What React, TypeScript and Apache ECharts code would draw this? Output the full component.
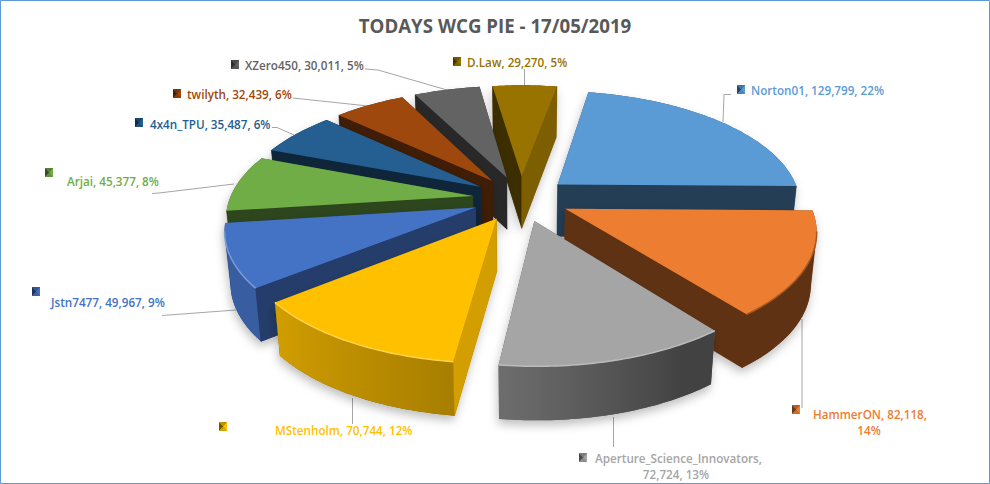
import React, { useEffect, useRef } from "react";
import * as echarts from "echarts";

const names = ["Norton01", "HammerON", "Aperture_Science_Innovators", "MStenholm", "Jstn7477", "Arjai", "4x4n_TPU", "twilyth", "XZero450", "D.Law"];
const values = [129799, 82118, 72724, 70744, 49967, 45377, 35487, 32439, 30011, 29270];
const colors = ["#5b9bd5", "#ed7d31", "#a5a5a5", "#ffc000", "#4472c4", "#70ad47", "#255e91", "#9e480e", "#636363", "#997300"];
const titleText = "TODAYS WCG PIE - 17/05/2019";

// layout of the label boxes (separate from the data)
const labelPos: { x: number; y: number; key: [number, number]; leader: number[][]; align?: string; breakAfter?: number }[] = [
  { x: 751, y: 90, key: [737, 85], leader: [[723, 122], [724, 94.5], [731, 94.5]] },
  { x: 813, y: 414, key: [792, 405], leader: [[802, 319], [802, 408]], breakAfter: 2 },
  { x: 595, y: 458, key: [579, 453], leader: [[613.5, 417], [613.5, 447]], breakAfter: 1 },
  { x: 275, y: 430, key: [219, 422], leader: [[352.5, 398], [352.5, 424]] },
  { x: 51, y: 302, key: [32, 287], leader: [[162, 315.5], [236, 310]] },
  { x: 67, y: 181, key: [45, 168], leader: [[152, 193.5], [159, 193], [234, 184]] },
  { x: 150, y: 124, key: [135, 118], leader: [[272, 127.5], [277, 127.5], [294, 135]] },
  { x: 187, y: 94, key: [173, 89], leader: [[293, 98], [368, 106]] },
  { x: 245, y: 65, key: [231, 60], leader: [[365, 69], [378, 70], [447, 90]] },
  { x: 467, y: 62, key: [453, 57], leader: [[524.5, 85], [524.5, 69]] },
];

const CX = 521, CY = 198.5, RX = 243, RY = 113, PERSP = 0.165, EXPLODE = 0.2, DEPTH = 52, START = 10;
const D2R = Math.PI / 180;

function shadeHex(hex: string, f: number) {
  const n = parseInt(hex.slice(1), 16);
  const ch = (v: number) => Math.max(0, Math.min(255, Math.round(v * f)));
  return `rgb(${ch((n >> 16) & 255)},${ch((n >> 8) & 255)},${ch(n & 255)})`;
}
function mixWhite(hex: string, t: number) {
  const n = parseInt(hex.slice(1), 16);
  const ch = (v: number) => Math.round(v + (255 - v) * t);
  return `rgb(${ch((n >> 16) & 255)},${ch((n >> 8) & 255)},${ch(n & 255)})`;
}

const total = values.reduce((s, v) => s + v, 0);
const spans = (() => {
  let acc = START;
  return values.map((v) => {
    const a0 = acc;
    acc += (v / total) * 360;
    return [a0, acc];
  });
})();

function project(u: number, v: number): number[] {
  const s = 1 / (1 + PERSP * v);
  return [CX + RX * u * s, CY - RY * v * s];
}
function lower(p: number[]): number[] {
  return [CX + (p[0] - CX) * 0.98, p[1] + DEPTH + (p[1] - CY) * 0.012];
}
function arcShade(a: number) {
  const d = ((a % 360) + 360) % 360;
  if (d < 150) return 0.4;
  if (d < 185) return 0.4 + ((d - 150) / 35) * 0.25;
  if (d < 230) return 0.65 + ((d - 185) / 45) * 0.17;
  return 0.82;
}
function radialShade(n: number) {
  const s = Math.max(0, Math.sin(n * D2R));
  return 0.4 + 0.43 * Math.pow(s, 2.4);
}
function hull(pts: number[][]) {
  const p = pts.slice().sort((a, b) => a[0] - b[0] || a[1] - b[1]);
  const cross = (o: number[], a: number[], b: number[]) => (a[0] - o[0]) * (b[1] - o[1]) - (a[1] - o[1]) * (b[0] - o[0]);
  const lo: number[][] = [];
  for (const q of p) {
    while (lo.length >= 2 && cross(lo[lo.length - 2], lo[lo.length - 1], q) <= 0) lo.pop();
    lo.push(q);
  }
  const up: number[][] = [];
  for (const q of p.slice().reverse()) {
    while (up.length >= 2 && cross(up[up.length - 2], up[up.length - 1], q) <= 0) up.pop();
    up.push(q);
  }
  return lo.slice(0, -1).concat(up.slice(0, -1));
}

function renderSlice(_params: any, api: any) {
  const i = api.value(0) as number;
  const [a0, a1] = spans[i];
  const color = colors[i];
  const m = ((a0 + a1) / 2) * D2R;
  const ou = EXPLODE * Math.sin(m), ov = EXPLODE * Math.cos(m);
  const apex = project(ou, ov);
  const steps = Math.max(8, Math.round(a1 - a0));
  const angles: number[] = [];
  const rim: number[][] = [];
  for (let k = 0; k <= steps; k++) {
    const a = a0 + ((a1 - a0) * k) / steps;
    angles.push(a);
    rim.push(project(ou + Math.sin(a * D2R), ov + Math.cos(a * D2R)));
  }
  const top = [apex, ...rim];
  const all = top.concat(top.map(lower));
  const children: any[] = [];
  children.push({
    type: "polygon",
    shape: { points: hull(all) },
    style: { fill: shadeHex(color, 0.5), shadowBlur: 10, shadowColor: "rgba(0,0,0,0.25)", shadowOffsetX: -1, shadowOffsetY: 5 },
  });
  const quad = (p: number[], q: number[], fill: string) => ({
    type: "polygon",
    shape: { points: [p, q, lower(q), lower(p)] },
    style: { fill, stroke: fill, lineWidth: 0.5 },
  });
  // outer wall
  const vis: number[] = [];
  for (let k = 0; k < rim.length; k++) {
    const a = rim[k], b = rim[k + 1], c = rim[k - 1];
    if ((b && b[0] - a[0] < 0) || (c && a[0] - c[0] < 0)) vis.push(k);
  }
  if (vis.length > 1) {
    const vr = vis.map((k) => rim[k]);
    const poly = vr.concat(vr.map(lower).reverse());
    const xs = poly.map((p) => p[0]);
    const minX = Math.min(...xs), maxX = Math.max(...xs);
    const stops = vis
      .map((k) => ({ offset: (rim[k][0] - minX) / (maxX - minX || 1), color: shadeHex(color, arcShade(angles[k])) }))
      .sort((p, q) => p.offset - q.offset);
    children.push({
      type: "polygon",
      shape: { points: poly },
      style: { fill: { type: "linear", x: 0, y: 0, x2: 1, y2: 0, colorStops: stops } },
    });
  }
  // cut faces
  if (rim[0][0] < apex[0]) children.push(quad(apex, rim[0], shadeHex(color, radialShade(a0 - 90))));
  const last = rim[rim.length - 1];
  if (last[0] > apex[0]) children.push(quad(last, apex, shadeHex(color, radialShade(a1 + 90))));
  // top
  children.push({ type: "polygon", shape: { points: top }, style: { fill: color } });
  // bevel along the near rim
  if (vis.length > 1) {
    children.push({
      type: "polyline",
      shape: { points: vis.map((k) => rim[k]) },
      style: { fill: "none", stroke: a0 > 180 ? mixWhite(color, 0.3) : a0 > 130 ? mixWhite(color, 0.25) : shadeHex(color, 0.7), lineWidth: 1.5 },
    });
  }
  return { type: "group", children };
}

function keyIcon(i: number) {
  const [x, y] = labelPos[i].key;
  const c = colors[i];
  const w = 8, h = 9;
  const mid = [x + w * 0.55, y + h / 2];
  return {
    type: "group",
    silent: true,
    children: [
      { type: "rect", shape: { x, y, width: w, height: h }, style: { fill: c } },
      { type: "polygon", shape: { points: [[x, y], mid, [x, y + h]] }, style: { fill: shadeHex(c, 0.45) } },
      { type: "polygon", shape: { points: [[x, y], [x + w, y], mid] }, style: { fill: shadeHex(c, 0.75) } },
      { type: "polygon", shape: { points: [[x, y + h], [x + w, y + h], mid] }, style: { fill: shadeHex(c, 0.85) } },
    ],
  };
}

function labelTexts(i: number) {
  const pct = Math.round((values[i] / total) * 100);
  const parts = [names[i], values[i].toLocaleString("en-US"), pct + "%"];
  const pos = labelPos[i];
  const font = { fontFamily: "'Open Sans', sans-serif", fontSize: 11.7, fontWeight: 600, fill: colors[i] };
  if (!pos.breakAfter) {
    return [{ type: "text", x: pos.x, y: pos.y, style: { text: parts.join(", "), textVerticalAlign: "middle", ...font } }];
  }
  const l1 = parts.slice(0, pos.breakAfter).join(", ") + ",";
  const l2 = parts.slice(pos.breakAfter).join(", ");
  return [
    { type: "text", id: "a" + i, x: pos.x, y: pos.y, style: { text: l1, textVerticalAlign: "middle", ...font } },
    { type: "text", id: "b" + i, x: pos.x + (i === 1 ? 56 : 81), y: pos.y + 16, style: { text: l2, textAlign: "center", textVerticalAlign: "middle", ...font } },
  ];
}

export default function App() {
  const ref = useRef<HTMLDivElement>(null);
  useEffect(() => {
    document.body.style.margin = "0";
    const chart = echarts.init(ref.current!, undefined, { renderer: "svg" });
    const order = values
      .map((_, i) => i)
      .sort((p, q) => Math.cos(((spans[q][0] + spans[q][1]) / 2) * D2R) - Math.cos(((spans[p][0] + spans[p][1]) / 2) * D2R));
    const elements: any[] = [
      { type: "rect", z: -1, silent: true, shape: { x: 0.5, y: 0.5, width: 989, height: 483 }, style: { fill: "#fff", stroke: "#5b9bd5", lineWidth: 1 } },
      {
        type: "text",
        x: 495,
        y: 25,
        style: { text: titleText, textAlign: "center", textVerticalAlign: "middle", fontFamily: "'Open Sans', sans-serif", fontSize: 18.7, fontWeight: 700, fill: "#595959" },
      },
    ];
    values.forEach((_, i) => {
      elements.push({
        type: "polyline",
        silent: true,
        shape: { points: labelPos[i].leader },
        style: { fill: "none", stroke: "#a6a6a6", lineWidth: 1 },
      });
      elements.push(keyIcon(i));
      elements.push(...labelTexts(i));
    });
    chart.setOption({
      animation: false,
      backgroundColor: "#fff",
      series: [
        {
          type: "custom",
          coordinateSystem: "none",
          silent: true,
          renderItem: renderSlice,
          data: order.map((i) => ({ name: names[i], value: [i, values[i]] })),
        },
      ],
      graphic: { elements },
    });
    return () => chart.dispose();
  }, []);
  return <div ref={ref} style={{ width: 990, height: 484 }} />;
}
